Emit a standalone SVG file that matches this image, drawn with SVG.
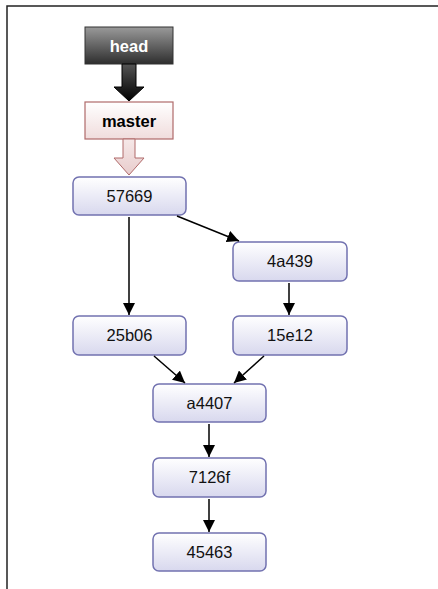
<svg xmlns="http://www.w3.org/2000/svg" width="438" height="589" viewBox="0 0 438 589">
<defs>
<linearGradient id="gNode" x1="0" y1="0" x2="0" y2="1">
<stop offset="0" stop-color="#ffffff"/>
<stop offset="1" stop-color="#d8d8ee"/>
</linearGradient>
<linearGradient id="gHead" x1="0" y1="0" x2="0" y2="1">
<stop offset="0" stop-color="#9a9a9a"/>
<stop offset="1" stop-color="#2e2e2e"/>
</linearGradient>
<linearGradient id="gHeadArrow" x1="0" y1="0" x2="0" y2="1">
<stop offset="0" stop-color="#555555"/>
<stop offset="1" stop-color="#000000"/>
</linearGradient>
<linearGradient id="gMaster" x1="0" y1="0" x2="0" y2="1">
<stop offset="0" stop-color="#ffffff"/>
<stop offset="1" stop-color="#f0dcdc"/>
</linearGradient>
<linearGradient id="gMasterArrow" x1="0" y1="0" x2="0" y2="1">
<stop offset="0" stop-color="#f6e8e8"/>
<stop offset="1" stop-color="#e8cccc"/>
</linearGradient>
<marker id="arr" viewBox="0 0 10 10" refX="10" refY="5" markerWidth="8" markerHeight="8" markerUnits="strokeWidth" orient="auto">
<path d="M0,0 L10,5 L0,10 z" fill="#000"/>
</marker>
</defs>
<style>
.node rect{fill:url(#gNode);stroke:#7272b0;stroke-width:1.5}
.node text{font-family:"Liberation Sans",Arial,sans-serif;font-size:16.5px;fill:#111;text-anchor:middle}
.conn line{stroke:#000;stroke-width:1.5;marker-end:url(#arr)}
.lbl{font-family:"Liberation Sans",Arial,sans-serif;font-size:16.5px;font-weight:bold;text-anchor:middle}
</style>
<rect width="438" height="589" fill="#fff"/>
<path d="M7,589 V6 H438" fill="none" stroke="#222" stroke-width="1.5"/>

<g id="head">
<rect x="85" y="27" width="88" height="37" fill="url(#gHead)" stroke="#333" stroke-width="1"/>
<text x="129" y="52" class="lbl" fill="#fff">head</text>
</g>
<g id="head-arrow">
<path d="M122,64 H136 V87 H144 L129,101 L114,87 H122 Z" fill="url(#gHeadArrow)" stroke="#000" stroke-width="1"/>
</g>
<g id="master">
<rect x="85" y="102" width="88" height="37" fill="url(#gMaster)" stroke="#b06a6a" stroke-width="1.2"/>
<text x="129" y="127" class="lbl" fill="#000">master</text>
</g>
<g id="master-arrow">
<path d="M123,139 H135 V158 H144 L129,175 L114,158 H123 Z" fill="url(#gMasterArrow)" stroke="#b06a6a" stroke-width="1"/>
</g>

<g id="n57669" class="node"><rect x="73" y="177" width="113" height="38" rx="6"/><text x="129.5" y="202">57669</text></g>
<g id="n4a439" class="node"><rect x="233" y="242" width="114" height="39" rx="6"/><text x="290" y="267">4a439</text></g>
<g id="n25b06" class="node"><rect x="73" y="316" width="113" height="39" rx="6"/><text x="129.5" y="341">25b06</text></g>
<g id="n15e12" class="node"><rect x="233" y="316" width="114" height="39" rx="6"/><text x="290" y="341">15e12</text></g>
<g id="na4407" class="node"><rect x="153" y="384" width="113" height="38" rx="6"/><text x="209.5" y="409">a4407</text></g>
<g id="n7126f" class="node"><rect x="153" y="458" width="113" height="39" rx="6"/><text x="209.5" y="483">7126f</text></g>
<g id="n45463" class="node"><rect x="153" y="533" width="113" height="38" rx="6"/><text x="209.5" y="558">45463</text></g>

<g id="connectors" class="conn">
<line x1="129" y1="217" x2="129" y2="315"/>
<line x1="177" y1="216" x2="239" y2="241"/>
<line x1="289" y1="283" x2="289" y2="315"/>
<line x1="154" y1="356" x2="185" y2="383"/>
<line x1="264" y1="356" x2="234" y2="383"/>
<line x1="209" y1="424" x2="209" y2="457"/>
<line x1="209" y1="499" x2="209" y2="532"/>
</g>
</svg>
